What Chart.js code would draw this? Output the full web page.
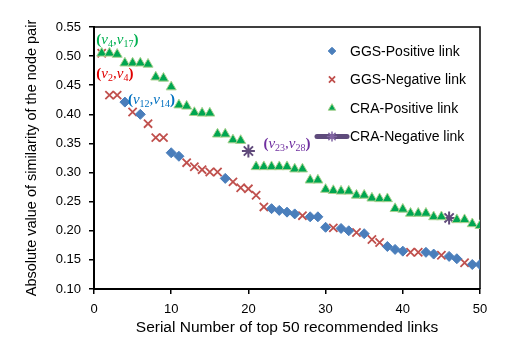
<!DOCTYPE html>
<html>
<head>
<meta charset="utf-8">
<script src="https://cdn.jsdelivr.net/npm/chart.js@4.4.1/dist/chart.umd.min.js"></script>
<style>
  html, body { margin: 0; padding: 0; background: #fff; }
  #wrap { width: 531px; height: 344px; position: relative; }
</style>
</head>
<body>
<div id="wrap"><canvas id="chart"></canvas></div>
<script>
// serial number of the recommended link (x)
const serialNumbers = [
  1, 2, 3, 4, 5, 6, 7, 8, 9, 10, 11, 12, 13, 14, 15, 16, 17, 18, 19, 20, 21, 22, 23, 24, 25,
  26, 27, 28, 29, 30, 31, 32, 33, 34, 35, 36, 37, 38, 39, 40, 41, 42, 43, 44, 45, 46, 47, 48, 49, 50
];

// absolute similarity of the node pair
const ggsSimilarity = [
  0.505, 0.433, 0.433, 0.421, 0.404, 0.400, 0.384, 0.360, 0.360, 0.334,
  0.328, 0.317, 0.310, 0.305, 0.301, 0.301, 0.290, 0.284, 0.274, 0.272,
  0.261, 0.241, 0.238, 0.235, 0.232, 0.229, 0.226, 0.224, 0.224, 0.206,
  0.205, 0.204, 0.200, 0.197, 0.195, 0.185, 0.180, 0.173, 0.168, 0.165,
  0.163, 0.163, 0.163, 0.160, 0.158, 0.156, 0.152, 0.145, 0.142, 0.142
];
const craSimilarity = [
  0.505, 0.505, 0.503, 0.488, 0.488, 0.488, 0.486, 0.464, 0.462, 0.447,
  0.416, 0.414, 0.403, 0.402, 0.402, 0.366, 0.366, 0.356, 0.355, 0.337,
  0.310, 0.310, 0.310, 0.310, 0.310, 0.306, 0.306, 0.287, 0.287, 0.271,
  0.269, 0.268, 0.268, 0.261, 0.261, 0.256, 0.255, 0.255, 0.238, 0.237,
  0.230, 0.230, 0.230, 0.224, 0.224, 0.222, 0.219, 0.219, 0.212, 0.209
];

// which serial numbers are negative links
const ggsNegativeSerials = [1, 2, 3, 5, 7, 8, 9, 12, 13, 14, 15, 16, 18, 19, 20, 21, 22, 27, 31, 34, 36, 37, 41, 42, 45, 48];
const craNegativeSerials = [20, 46];

const seriesNames = ['GGS-Positive link', 'GGS-Negative link', 'CRA-Positive link', 'CRA-Negative link'];

// node pair labels, anchored in data units
const pairLabels = [
  { a: '4', b: '17', x: 0.3, y: 0.521, color: '#00B050' },
  { a: '2', b: '4', x: 0.3, y: 0.4625, color: '#E00000' },
  { a: '12', b: '14', x: 4.4, y: 0.418, color: '#0070C0' },
  { a: '23', b: '28', x: 21.95, y: 0.342, color: '#7030A0' }
];

const yTicks = [0.10, 0.15, 0.20, 0.25, 0.30, 0.35, 0.40, 0.45, 0.50, 0.55];

function pick(values, serials, wantNeg, negList) {
  const out = [];
  serials.forEach((s, i) => {
    const isNeg = negList.includes(s);
    if (isNeg === wantNeg) out.push({ x: s, y: values[i] });
  });
  return out;
}

const FONT = "'Liberation Sans', Arial, sans-serif";

const datasets = [
  {
    label: seriesNames[2],
    data: pick(craSimilarity, serialNumbers, false, craNegativeSerials),
    pointStyle: 'triangle', pointRadius: 5.8,
    backgroundColor: '#00A651', borderColor: '#A9D18E', borderWidth: 1,
    order: 0
  },
  {
    label: seriesNames[3],
    data: pick(craSimilarity, serialNumbers, true, craNegativeSerials),
    pointStyle: 'star', pointRadius: 6.5,
    backgroundColor: '#604A7B', borderColor: '#604A7B', borderWidth: 2,
    order: 1
  },
  {
    label: seriesNames[0],
    data: pick(ggsSimilarity, serialNumbers, false, ggsNegativeSerials),
    pointStyle: 'rectRot', pointRadius: 5,
    backgroundColor: '#4A7EBB', borderColor: '#4A7EBB', borderWidth: 1,
    order: 2
  },
  {
    label: seriesNames[1],
    data: pick(ggsSimilarity, serialNumbers, true, ggsNegativeSerials),
    pointStyle: 'crossRot', pointRadius: 5.8,
    backgroundColor: '#C0504D', borderColor: '#C0504D', borderWidth: 1.8,
    order: 3
  }
];
datasets.forEach(d => { d.showLine = false; d.pointHoverRadius = d.pointRadius; });

function drawMarker(ctx, ds, x, y) {
  ctx.save();
  ctx.fillStyle = ds.backgroundColor;
  ctx.strokeStyle = ds.borderColor;
  ctx.lineWidth = ds.borderWidth;
  Chart.helpers.drawPoint(ctx, { pointStyle: ds.pointStyle, radius: ds.pointRadius, rotation: 0, borderWidth: ds.borderWidth }, x, y);
  ctx.restore();
}

const plotFrame = {
  id: 'plotFrame',
  beforeDatasetsDraw(chart) {
    const { ctx, chartArea: a } = chart;
    ctx.save();
    ctx.strokeStyle = '#000';
    ctx.lineWidth = 1.5;
    ctx.beginPath();
    ctx.moveTo(a.left, a.top);
    ctx.lineTo(a.right, a.top);
    ctx.lineTo(a.right, a.bottom);
    ctx.stroke();
    ctx.restore();
  }
};

const pairText = {
  id: 'pairText',
  afterDatasetsDraw(chart) {
    const { ctx, scales } = chart;
    ctx.save();
    ctx.textBaseline = 'alphabetic';
    pairLabels.forEach(lab => {
      let x = scales.x.getPixelForValue(lab.x);
      const y = scales.y.getPixelForValue(lab.y);
      const parts = [
        ['(', 'bold 15px "Liberation Serif"', 0],
        ['v', 'italic 15px "Liberation Serif"', 0],
        [lab.a, '10px "Liberation Serif"', 3],
        [',', '15px "Liberation Serif"', 0],
        ['v', 'italic 15px "Liberation Serif"', 0],
        [lab.b, '10px "Liberation Serif"', 3],
        [')', 'bold 15px "Liberation Serif"', 0]
      ];
      ctx.fillStyle = lab.color;
      parts.forEach(([t, f, dy]) => {
        ctx.font = f;
        ctx.fillText(t, x, y + dy);
        x += ctx.measureText(t).width;
      });
    });
    ctx.restore();
  }
};

const sideLegend = {
  id: 'sideLegend',
  afterDraw(chart) {
    const { ctx } = chart;
    const order = [2, 3, 0, 1];
    ctx.save();
    ctx.font = '14px ' + FONT;
    ctx.fillStyle = '#000';
    ctx.textBaseline = 'middle';
    order.forEach((di, k) => {
      const ds = chart.data.datasets[di];
      const y = 51 + k * 28.5;
      if (ds.label === 'CRA-Negative link') {
        ctx.strokeStyle = '#5F4B7C';
        ctx.lineWidth = 5;
        ctx.lineCap = 'round';
        ctx.beginPath();
        ctx.moveTo(317, y);
        ctx.lineTo(347, y);
        ctx.stroke();
        drawMarker(ctx, { ...ds, backgroundColor: '#8064A2', borderColor: '#8064A2', pointRadius: 4.5, borderWidth: 1.5 }, 332, y);
      } else {
        drawMarker(ctx, { ...ds, pointRadius: ds.pointRadius * 0.75 }, 332, y);
      }
      ctx.fillStyle = '#000';
      ctx.fillText(ds.label, 350, y + 1);
    });
    ctx.restore();
  }
};

new Chart(document.getElementById('chart'), {
  type: 'scatter',
  data: { datasets },
  options: {
    responsive: true,
    maintainAspectRatio: false,
    devicePixelRatio: 1,
    animation: false,
    events: [],
    layout: { padding: { top: 27, right: 51, bottom: 0, left: 0 } },
    plugins: { legend: { display: false }, tooltip: { enabled: false } },
    scales: {
      x: {
        type: 'linear', min: 0, max: 50,
        afterFit(s) { s.height = 55; },
        ticks: { stepSize: 10, color: '#000', padding: 8, font: { family: FONT, size: 13 } },
        grid: { drawOnChartArea: false, color: '#000', lineWidth: 1.5, tickLength: 5 },
        border: { color: '#000', width: 2 },
        title: {
          display: true, text: 'Serial Number of top 50 recommended links', color: '#000',
          font: { family: FONT, size: 15.5 }, padding: { top: 0, bottom: 7 }
        }
      },
      y: {
        min: 0.10, max: 0.55,
        afterFit(s) { s.width = 94; },
        afterBuildTicks(s) { s.ticks = yTicks.map(v => ({ value: v })); },
        ticks: { color: '#000', padding: 8, font: { family: FONT, size: 13 }, callback: v => v.toFixed(2) },
        grid: { drawOnChartArea: false, color: '#000', lineWidth: 1.5, tickLength: 5 },
        border: { color: '#000', width: 2 },
        title: {
          display: true, text: 'Absolute value of similarity of the node pair', color: '#000',
          font: { family: FONT, size: 14.5 }, padding: { top: 23, bottom: 0 }
        }
      }
    }
  },
  plugins: [plotFrame, pairText, sideLegend]
});
</script>
</body>
</html>
